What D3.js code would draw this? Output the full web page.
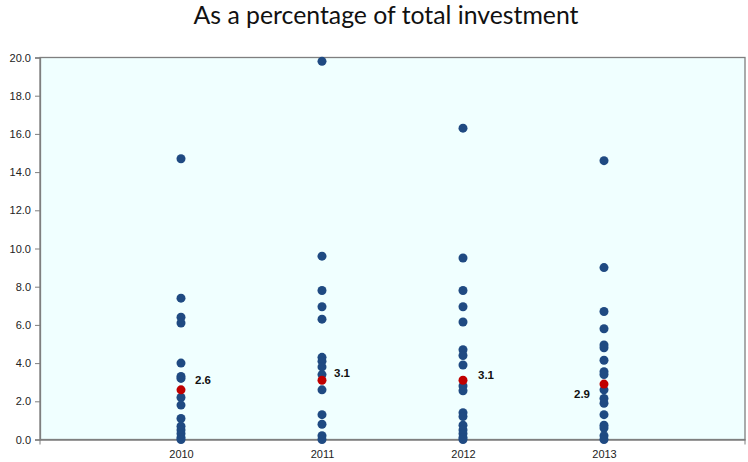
<!DOCTYPE html>
<html><head><meta charset="utf-8">
<script src="https://cdn.jsdelivr.net/npm/d3@7"></script>
<style>body{margin:0;background:#fff}svg{display:block}</style>
</head><body>
<svg id="c" width="748" height="462"></svg>
<script>
const title = "As a percentage of total investment";
const years = ["2010","2011","2012","2013"];
const values2010 = [14.7,7.4,6.4,6.1,4.0,3.3,3.2,2.2,1.8,1.1,0.7,0.5,0.3,0.1,0.0];
const values2011 = [19.8,9.6,7.8,6.95,6.3,4.3,4.1,3.8,3.4,2.6,1.3,0.8,0.2,0.0];
const values2012 = [16.3,9.5,7.8,6.95,6.15,4.7,4.4,3.9,2.8,2.55,1.4,1.2,0.75,0.5,0.3,0.1,0.0];
const values2013 = [14.6,9.0,6.7,5.8,4.95,4.8,4.15,3.55,3.4,2.6,2.15,1.9,1.3,0.75,0.6,0.2,0.0];
const averages = [2.6,3.1,3.1,2.9];
const yTicks = [0,2,4,6,8,10,12,14,16,18,20];

const series = [values2010, values2011, values2012, values2013];
const svg = d3.select("#c");
const m = {left:40, right:745, top:57.5, bottom:439.5};

const x = d3.scaleLinear().domain([0, years.length + 1]).range([m.left, m.right]);
const y = d3.scaleLinear().domain([0, 20]).range([m.bottom, m.top]);

svg.append("text").attr("x", 386).attr("y", 24).attr("text-anchor","middle")
  .attr("font-family","Lato, 'Open Sans', sans-serif").attr("font-size", 24.8).attr("fill","#111")
  .text(title);

svg.append("rect").attr("x", m.left).attr("y", m.top)
  .attr("width", m.right - m.left).attr("height", m.bottom - m.top)
  .attr("fill","#F0FFFF").attr("stroke","#7f7f7f").attr("stroke-width",1.3);

// y axis
const ya = svg.append("g").attr("transform",`translate(${m.left},0)`)
  .call(d3.axisLeft(y).tickValues(yTicks).tickSize(5).tickPadding(4).tickFormat(d3.format(".1f")));
ya.select(".domain").attr("stroke","#7f7f7f").attr("stroke-width",1.3);
ya.selectAll(".tick line").attr("stroke","#7f7f7f");
ya.selectAll("text").attr("font-family","'Liberation Sans', Arial, sans-serif").attr("font-size",11).attr("fill","#222");

// x axis
const xa = svg.append("g").attr("transform",`translate(0,${m.bottom})`)
  .call(d3.axisBottom(x).tickValues(years.map((d,i)=>i+1)).tickSize(0).tickPadding(11)
    .tickFormat((d)=>years[d-1]));
xa.select(".domain").attr("stroke","#7f7f7f").attr("stroke-width",1.3);
xa.selectAll("text").attr("font-family","'Liberation Sans', Arial, sans-serif").attr("font-size",11).attr("fill","#222");
svg.append("g").selectAll("line").data([0, years.length + 1]).join("line")
  .attr("x1", d=>x(d)).attr("x2", d=>x(d)).attr("y1", m.bottom).attr("y2", m.bottom+5)
  .attr("stroke","#7f7f7f");

// points
const pts = [];
series.forEach((arr,i)=>arr.forEach(v=>pts.push({i:i+1,v})));
svg.append("g").selectAll("circle").data(pts).join("circle")
  .attr("cx", d=>x(d.i)).attr("cy", d=>y(d.v)).attr("r",4.5).attr("fill","#1F4A82");

svg.append("g").selectAll("circle").data(averages).join("circle")
  .attr("cx", (d,i)=>x(i+1)).attr("cy", d=>y(d)).attr("r",4.5).attr("fill","#C00000");

const labOff = [{dx:14,dy:-6,a:"start"},{dx:12,dy:-3,a:"start"},{dx:15,dy:-1,a:"start"},{dx:-14,dy:14,a:"end"}];
svg.append("g").selectAll("text").data(averages).join("text")
  .attr("x", (d,i)=>x(i+1)+labOff[i].dx).attr("y", (d,i)=>y(d)+labOff[i].dy)
  .attr("text-anchor",(d,i)=>labOff[i].a)
  .attr("font-family","'Liberation Sans Narrow', 'Liberation Sans', Arial, sans-serif")
  .attr("font-weight","bold").attr("font-size",11.5).attr("fill","#111")
  .text(d=>d.toFixed(1));
</script>
</body></html>
